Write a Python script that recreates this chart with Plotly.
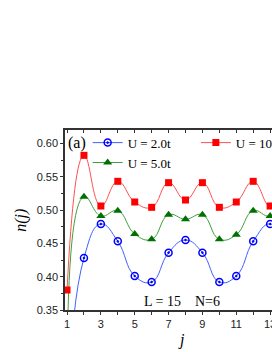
import plotly.graph_objects as go

sites = list(range(1, 16))
n_u2 = [0.18, 0.428, 0.479, 0.453, 0.401, 0.392, 0.436, 0.455, 0.436, 0.392, 0.401, 0.453, 0.479, 0.428, 0.18]
n_u5 = [0.26, 0.520, 0.491, 0.499, 0.464, 0.456, 0.493, 0.486, 0.493, 0.456, 0.463, 0.499, 0.491, 0.520, 0.26]
n_u10 = [0.380, 0.582, 0.506, 0.543, 0.512, 0.504, 0.541, 0.515, 0.541, 0.504, 0.512, 0.543, 0.506, 0.582, 0.380]
labels = ["U = 2.0t", "U = 5.0t", "U = 10.0t"]

serif = "Liberation Serif, Times New Roman, serif"
sans = "Liberation Sans, Arial, sans-serif"

fig = go.Figure()
fig.add_trace(go.Scatter(x=sites, y=n_u2, name=labels[0], mode="lines+markers",
                         line=dict(color="#4060ff", width=1, shape="spline", smoothing=1.3),
                         marker=dict(symbol="circle-open-dot", size=7, color="#0000ff", line=dict(width=1.5)),
                         legend="legend"))
fig.add_trace(go.Scatter(x=sites, y=n_u5, name=labels[1], mode="lines+markers",
                         line=dict(color="#40a040", width=1, shape="spline", smoothing=1.3),
                         marker=dict(symbol="triangle-up", size=8, color="#007000"),
                         legend="legend"))
fig.add_trace(go.Scatter(x=sites, y=n_u10, name=labels[2], mode="lines+markers",
                         line=dict(color="#ff5050", width=1, shape="spline", smoothing=1.3),
                         marker=dict(symbol="square", size=7, color="#ff0000"),
                         legend="legend2"))

axis_common = dict(showline=True, linecolor="#333", linewidth=1.5, showgrid=False, zeroline=False,
                   tickfont=dict(family=sans, size=11, color="#222"))

fig.update_layout(
    width=320, height=352,
    margin=dict(l=65, r=10, t=130, b=42),
    paper_bgcolor="white", plot_bgcolor="white",
    font=dict(family=serif, color="black"),
    xaxis=dict(range=[0.88, 15.12], tick0=1, dtick=2, ticks="outside", ticklen=3, tickcolor="#333",
               minor=dict(dtick=1, ticks="outside", ticklen=3, tickcolor="#333"), **axis_common),
    xaxis2=dict(overlaying="x", matches="x", side="top", showticklabels=False, tick0=1, dtick=1,
                ticks="inside", ticklen=3, tickcolor="#333", showline=True, linecolor="#333",
                linewidth=1.5, showgrid=False, zeroline=False),
    yaxis=dict(range=[0.35, 0.62], tick0=0.35, dtick=0.05, tickformat=".2f", ticks="outside", ticklen=3,
               tickcolor="#333", minor=dict(dtick=0.025, ticks="outside", ticklen=2, tickcolor="#333"),
               mirror=True, **axis_common),
    legend=dict(x=0.094, y=1.013, xanchor="left", yanchor="top", bgcolor="rgba(0,0,0,0)",
                font=dict(family=serif, size=13), tracegroupgap=0),
    legend2=dict(x=0.543, y=1.013, xanchor="left", yanchor="top", bgcolor="rgba(0,0,0,0)",
                 font=dict(family=serif, size=13)),
    showlegend=True,
)
# dummy trace to activate top axis
fig.add_trace(go.Scatter(x=[sites[0]], y=[None], xaxis="x2", showlegend=False, hoverinfo="skip"))

fig.add_annotation(text="(a)", x=0.049, y=0.928, xref="paper", yref="paper", showarrow=False,
                   xanchor="center", yanchor="middle", font=dict(family=serif, size=16))
fig.add_annotation(text="L = 15\u00a0\u00a0\u00a0\u00a0N=6", x=0.484, y=0.046, xref="paper", yref="paper",
                   xanchor="center", yanchor="middle", showarrow=False, font=dict(family=serif, size=14))
fig.add_annotation(text="<i>n(j)</i>", x=-(65 - 20) / 245, y=0.5, xref="paper", yref="paper",
                   xanchor="center", yanchor="middle",
                   showarrow=False, textangle=-90, font=dict(family=serif, size=16))
fig.add_annotation(text="<i>j</i>", x=(183 - 65) / 245, y=-0.167, xref="paper", yref="paper",
                   xanchor="center", yanchor="middle",
                   showarrow=False, font=dict(family=serif, size=16))

fig.write_html("out.html", config={"displayModeBar": False},
               post_script="document.body.style.margin='0';document.body.style.overflow='hidden';")
